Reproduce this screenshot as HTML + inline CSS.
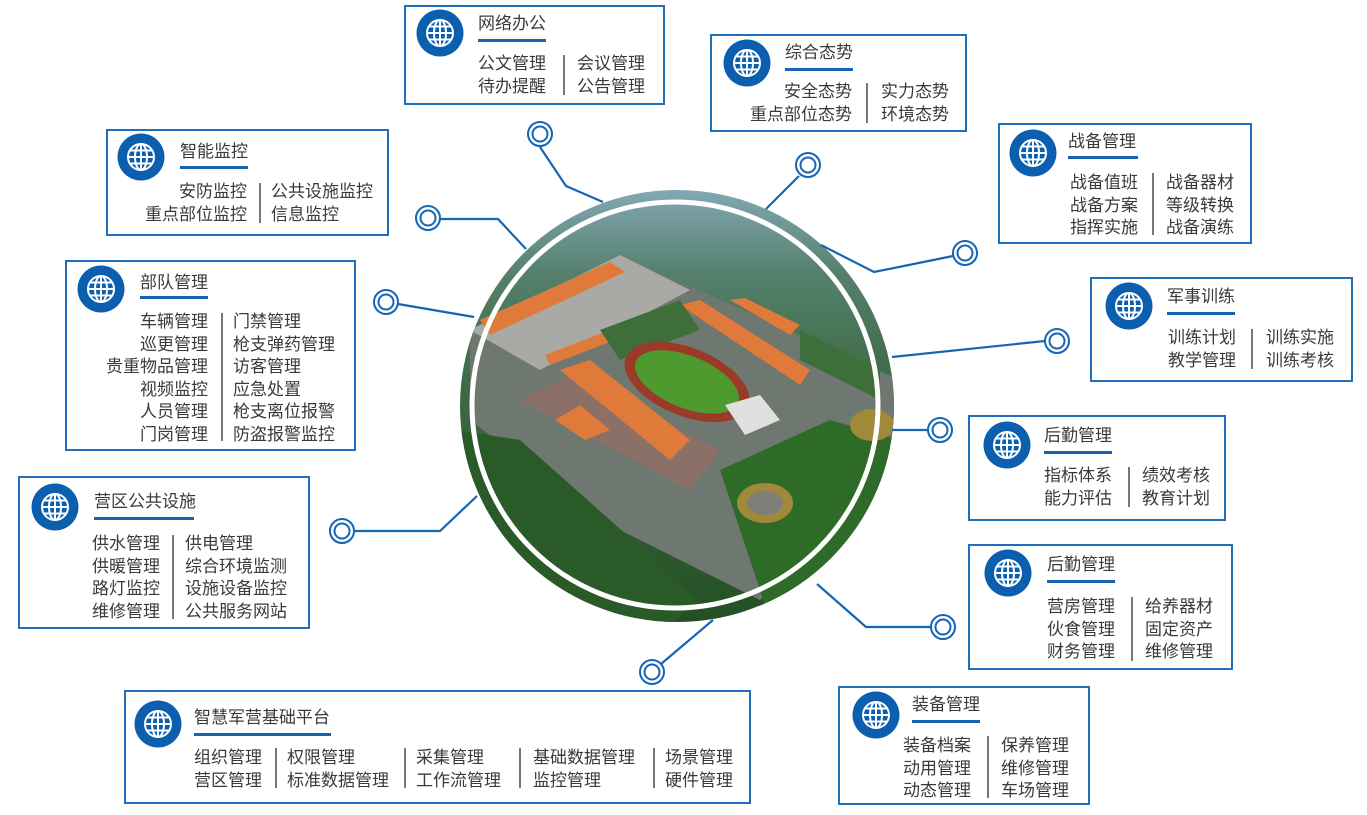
<!DOCTYPE html>
<html><head><meta charset="utf-8">
<style>
body{margin:0;width:1367px;height:815px;background:#fff;position:relative;overflow:hidden;font-family:"Liberation Sans","Noto Sans CJK SC",sans-serif;color:#3a3a3a}
.b{position:absolute;border:2px solid #1f6fbd;box-sizing:border-box;background:#fff}
.t{position:absolute;font-size:17px;line-height:22.5px;white-space:nowrap;margin-top:2px}
.r{text-align:right}
.u{position:absolute;height:3px;background:#1a62b0}
.s{position:absolute;width:1.5px;background:#777}
svg.ic{position:absolute;width:48px;height:48px}
</style></head><body>
<svg width="0" height="0" style="position:absolute"><defs><symbol id="g" viewBox="0 0 48 48"><circle cx="24" cy="24" r="23.5" fill="#0c5fae"/><g fill="none" stroke="#fff" stroke-width="2"><circle cx="24" cy="24" r="13"/><ellipse cx="24" cy="24" rx="6" ry="13"/><line x1="24" y1="11" x2="24" y2="37"/><line x1="11" y1="24" x2="37" y2="24"/><line x1="13" y1="17.5" x2="35" y2="17.5"/><line x1="13" y1="30.5" x2="35" y2="30.5"/></g></symbol></defs></svg>

<svg style="position:absolute;left:0;top:0" width="1367" height="815">
<defs>
<clipPath id="cc"><ellipse cx="677" cy="406" rx="217" ry="216"/></clipPath>
<linearGradient id="sky" x1="0" y1="0" x2="0" y2="1"><stop offset="0" stop-color="#86aab8"/><stop offset="0.2" stop-color="#55806c"/><stop offset="0.45" stop-color="#3d6a44"/><stop offset="1" stop-color="#244f24"/></linearGradient>
</defs>
<g clip-path="url(#cc)">
<rect x="455" y="185" width="450" height="445" fill="url(#sky)"/>
<polygon points="470,330 620,255 900,380 900,470 760,600 600,520 470,420" fill="#6f7870"/>
<polygon points="470,330 620,255 690,290 540,370" fill="#a9aaa6"/>
<polygon points="480,320 610,262 625,272 490,335" fill="#e07a3a"/>
<polygon points="545,355 610,330 615,340 550,365" fill="#e07a3a"/>
<polygon points="520,400 570,375 720,450 690,490" fill="#8a7066"/>
<polygon points="560,370 590,360 690,440 670,460" fill="#e07a3a"/>
<polygon points="555,420 580,405 610,430 585,440" fill="#e07a3a"/>
<polygon points="680,305 700,300 810,370 800,385" fill="#e07a3a"/>
<polygon points="730,300 745,298 800,325 790,335" fill="#e07a3a"/>
<polygon points="600,330 680,300 700,330 620,360" fill="#3e6e3a"/>
<polygon points="800,330 880,370 880,400 800,360" fill="#3e6e3a"/>
<ellipse cx="687" cy="382" rx="66" ry="34" transform="rotate(22 687 382)" fill="#9b3a26"/>
<ellipse cx="687" cy="382" rx="55" ry="26" transform="rotate(22 687 382)" fill="#4f9a2e"/>
<polygon points="725,405 760,395 780,420 745,435" fill="#e0e0e0"/>
<polygon points="720,470 830,420 900,440 900,560 770,620" fill="#2e6a28"/>
<ellipse cx="765" cy="503" rx="28" ry="20" fill="#a08a3a"/>
<ellipse cx="765" cy="503" rx="18" ry="12" fill="#7d7f78"/>
<ellipse cx="872" cy="425" rx="22" ry="16" fill="#a08a3a"/>
<polygon points="455,430 520,440 700,600 650,640 455,640" fill="#2a5a28"/>
</g>
<ellipse cx="675" cy="405" rx="203" ry="203" fill="none" stroke="#fff" stroke-width="5"/>
<g fill="none" stroke="#1565b5" stroke-width="2.2">
<polyline points="540,147 566,186 603,202"/>
<polyline points="799,176 766,209"/>
<polyline points="953,256 874,272 821,245"/>
<polyline points="440,219 498,219 526,249"/>
<polyline points="398,304 474,317"/>
<polyline points="1045,341 892,357"/>
<polyline points="928,430 892,430"/>
<polyline points="931,627 866,627 817,584"/>
<polyline points="661,664 713,620"/>
<polyline points="354,531 440,531 477,496"/>
</g>
<g fill="#fff" stroke="#1565b5" stroke-width="2">
<circle cx="540" cy="134" r="12"/><circle cx="540" cy="134" r="7.5"/>
<circle cx="808" cy="165" r="12"/><circle cx="808" cy="165" r="7.5"/>
<circle cx="965" cy="253" r="12"/><circle cx="965" cy="253" r="7.5"/>
<circle cx="428" cy="218" r="12"/><circle cx="428" cy="218" r="7.5"/>
<circle cx="386" cy="302" r="12"/><circle cx="386" cy="302" r="7.5"/>
<circle cx="1057" cy="341" r="12"/><circle cx="1057" cy="341" r="7.5"/>
<circle cx="940" cy="430" r="12"/><circle cx="940" cy="430" r="7.5"/>
<circle cx="943" cy="627" r="12"/><circle cx="943" cy="627" r="7.5"/>
<circle cx="652" cy="672" r="12"/><circle cx="652" cy="672" r="7.5"/>
<circle cx="342" cy="531" r="12"/><circle cx="342" cy="531" r="7.5"/>
</g>
</svg>

<div class="b" style="left:404px;top:5px;width:261px;height:100px"></div>
<svg class="ic" style="left:416px;top:9px"><use href="#g"/></svg>
<div class="t" style="left:478px;top:11px">网络办公</div>
<div class="u" style="left:478px;top:39px;width:68px"></div>
<div class="t r" style="left:446px;width:100px;top:51px">公文管理<br>待办提醒</div>
<div class="s" style="left:563px;top:55px;height:40px"></div>
<div class="t" style="left:577px;top:51px">会议管理<br>公告管理</div>

<div class="b" style="left:710px;top:34px;width:257px;height:98px"></div>
<svg class="ic" style="left:723px;top:39px"><use href="#g"/></svg>
<div class="t" style="left:785px;top:40px">综合态势</div>
<div class="u" style="left:785px;top:68px;width:68px"></div>
<div class="t r" style="left:700px;width:152px;top:79px">安全态势<br>重点部位态势</div>
<div class="s" style="left:866px;top:83px;height:40px"></div>
<div class="t" style="left:881px;top:79px">实力态势<br>环境态势</div>

<div class="b" style="left:998px;top:123px;width:254px;height:121px"></div>
<svg class="ic" style="left:1009px;top:129px"><use href="#g"/></svg>
<div class="t" style="left:1068px;top:129px">战备管理</div>
<div class="u" style="left:1068px;top:156px;width:70px"></div>
<div class="t r" style="left:1030px;width:108px;top:170px">战备值班<br>战备方案<br>指挥实施</div>
<div class="s" style="left:1152px;top:173px;height:62px"></div>
<div class="t" style="left:1166px;top:170px">战备器材<br>等级转换<br>战备演练</div>

<div class="b" style="left:1090px;top:277px;width:263px;height:105px"></div>
<svg class="ic" style="left:1105px;top:282px"><use href="#g"/></svg>
<div class="t" style="left:1167px;top:284px">军事训练</div>
<div class="u" style="left:1167px;top:312px;width:68px"></div>
<div class="t r" style="left:1130px;width:106px;top:325px">训练计划<br>教学管理</div>
<div class="s" style="left:1251px;top:329px;height:40px"></div>
<div class="t" style="left:1266px;top:325px">训练实施<br>训练考核</div>

<div class="b" style="left:968px;top:415px;width:258px;height:106px"></div>
<svg class="ic" style="left:983px;top:421px"><use href="#g"/></svg>
<div class="t" style="left:1044px;top:423px">后勤管理</div>
<div class="u" style="left:1044px;top:451px;width:68px"></div>
<div class="t r" style="left:1000px;width:112px;top:463px">指标体系<br>能力评估</div>
<div class="s" style="left:1128px;top:467px;height:40px"></div>
<div class="t" style="left:1142px;top:463px">绩效考核<br>教育计划</div>

<div class="b" style="left:968px;top:544px;width:265px;height:126px"></div>
<svg class="ic" style="left:984px;top:549px"><use href="#g"/></svg>
<div class="t" style="left:1047px;top:552px">后勤管理</div>
<div class="u" style="left:1047px;top:580px;width:68px"></div>
<div class="t r" style="left:1000px;width:115px;top:594px">营房管理<br>伙食管理<br>财务管理</div>
<div class="s" style="left:1131px;top:597px;height:64px"></div>
<div class="t" style="left:1145px;top:594px">给养器材<br>固定资产<br>维修管理</div>

<div class="b" style="left:838px;top:686px;width:252px;height:119px"></div>
<svg class="ic" style="left:852px;top:691px"><use href="#g"/></svg>
<div class="t" style="left:912px;top:692px">装备管理</div>
<div class="u" style="left:912px;top:720px;width:68px"></div>
<div class="t r" style="left:860px;width:111px;top:733px">装备档案<br>动用管理<br>动态管理</div>
<div class="s" style="left:987px;top:736px;height:62px"></div>
<div class="t" style="left:1001px;top:733px">保养管理<br>维修管理<br>车场管理</div>

<div class="b" style="left:124px;top:690px;width:627px;height:114px"></div>
<svg class="ic" style="left:134px;top:700px"><use href="#g"/></svg>
<div class="t" style="left:194px;top:705px">智慧军营基础平台</div>
<div class="u" style="left:194px;top:733px;width:137px"></div>
<div class="t" style="left:194px;top:745px">组织管理<br>营区管理</div>
<div class="s" style="left:275px;top:748px;height:40px"></div>
<div class="t" style="left:287px;top:745px">权限管理<br>标准数据管理</div>
<div class="s" style="left:404px;top:748px;height:40px"></div>
<div class="t" style="left:416px;top:745px">采集管理<br>工作流管理</div>
<div class="s" style="left:519px;top:748px;height:40px"></div>
<div class="t" style="left:533px;top:745px">基础数据管理<br>监控管理</div>
<div class="s" style="left:653px;top:748px;height:40px"></div>
<div class="t" style="left:665px;top:745px">场景管理<br>硬件管理</div>

<div class="b" style="left:18px;top:476px;width:292px;height:153px"></div>
<svg class="ic" style="left:31px;top:483px"><use href="#g"/></svg>
<div class="t" style="left:94px;top:489px">营区公共设施</div>
<div class="u" style="left:94px;top:517px;width:100px"></div>
<div class="t" style="left:92px;top:531px">供水管理<br>供暖管理<br>路灯监控<br>维修管理</div>
<div class="s" style="left:172px;top:535px;height:84px"></div>
<div class="t" style="left:185px;top:531px">供电管理<br>综合环境监测<br>设施设备监控<br>公共服务网站</div>

<div class="b" style="left:65px;top:260px;width:291px;height:191px"></div>
<svg class="ic" style="left:77px;top:265px"><use href="#g"/></svg>
<div class="t" style="left:140px;top:270px">部队管理</div>
<div class="u" style="left:140px;top:296px;width:68px"></div>
<div class="t r" style="left:90px;width:118px;top:309px">车辆管理<br>巡更管理<br>贵重物品管理<br>视频监控<br>人员管理<br>门岗管理</div>
<div class="s" style="left:221px;top:313px;height:128px"></div>
<div class="t" style="left:233px;top:309px">门禁管理<br>枪支弹药管理<br>访客管理<br>应急处置<br>枪支离位报警<br>防盗报警监控</div>

<div class="b" style="left:106px;top:129px;width:283px;height:107px"></div>
<svg class="ic" style="left:117px;top:133px"><use href="#g"/></svg>
<div class="t" style="left:180px;top:139px">智能监控</div>
<div class="u" style="left:180px;top:166px;width:68px"></div>
<div class="t r" style="left:130px;width:117px;top:179px">安防监控<br>重点部位监控</div>
<div class="s" style="left:259px;top:183px;height:40px"></div>
<div class="t" style="left:271px;top:179px">公共设施监控<br>信息监控</div>
</body></html>
